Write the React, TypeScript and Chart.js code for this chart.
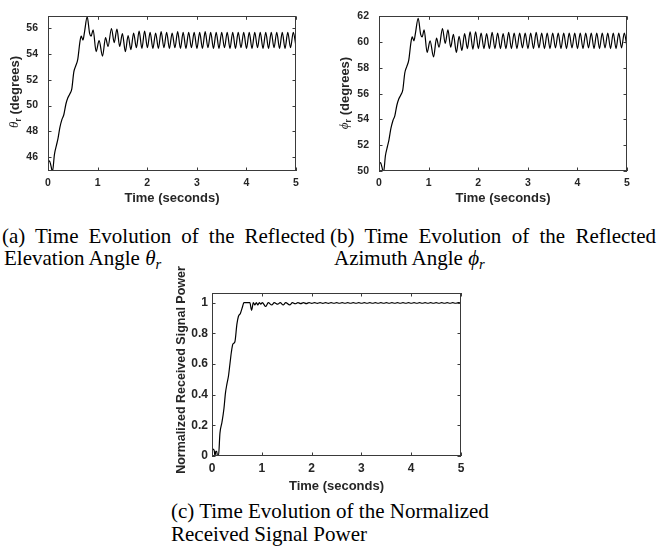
import React, { useEffect, useRef } from "react";
import { Chart, registerables } from "chart.js";
Chart.register(...registerables);

// ---------------- data ----------------
const xTickValues = [0, 1, 2, 3, 4, 5];
const thetaTickValues = [46, 48, 50, 52, 54, 56];
const phiTickValues = [50, 52, 54, 56, 58, 60, 62];
const powerTickValues = [0, 0.2, 0.4, 0.6, 0.8, 1];

// transient part (seconds)
const transientTime = [0, 0.03, 0.06, 0.09, 0.13, 0.17, 0.2, 0.24, 0.28, 0.32, 0.36, 0.4, 0.44, 0.48, 0.52, 0.56, 0.6, 0.645, 0.67, 0.705, 0.735, 0.79, 0.84, 0.87, 0.91, 0.97, 1.03, 1.1, 1.16, 1.21, 1.28, 1.335, 1.39, 1.445, 1.5, 1.56];
const thetaTransient = [45.55, 45.7, 45.3, 44.85, 46.2, 46.9, 47.4, 48.3, 48.9, 49.3, 50.1, 50.6, 50.9, 51.3, 52.6, 53.1, 53.6, 55.0, 55.4, 55.1, 55.7, 56.9, 55.6, 55.4, 55.9, 54.2, 55.05, 53.85, 55.3, 54.6, 56.0, 54.9, 55.95, 54.6, 55.6, 54.2];
const phiTransient = [50.55, 50.65, 50.3, 49.85, 51.2, 51.9, 52.4, 53.3, 53.9, 54.3, 55.1, 55.6, 55.9, 56.3, 57.6, 58.1, 58.6, 60.0, 60.4, 60.1, 60.7, 61.85, 60.6, 60.4, 60.95, 59.2, 60.1, 58.85, 60.3, 59.6, 61.05, 59.9, 60.95, 59.6, 60.6, 59.2];

// steady oscillation extremes (seconds)
const steadyTime = [1.615, 1.671, 1.726, 1.782, 1.837, 1.893, 1.948, 2.004, 2.059, 2.115, 2.17, 2.226, 2.281, 2.337, 2.392, 2.448, 2.503, 2.559, 2.614, 2.67, 2.725, 2.781, 2.836, 2.892, 2.947, 3.003, 3.058, 3.114, 3.169, 3.225, 3.28, 3.336, 3.391, 3.447, 3.502, 3.558, 3.613, 3.669, 3.724, 3.78, 3.835, 3.891, 3.946, 4.002, 4.057, 4.113, 4.168, 4.224, 4.279, 4.335, 4.39, 4.446, 4.501, 4.557, 4.612, 4.668, 4.723, 4.779, 4.834, 4.89, 4.945, 5.0];
const thetaSteady = [
  55.45, 54.35, 55.65, 54.5, 55.8, 54.45, 55.8, 54.5, 55.7, 54.45,
  55.65, 54.45, 55.75, 54.5, 55.7, 54.45, 55.65, 54.5, 55.75, 54.45,
  55.7, 54.45, 55.7, 54.5, 55.7, 54.45, 55.7, 54.45, 55.75, 54.5,
  55.7, 54.45, 55.7, 54.45, 55.7, 54.5, 55.7, 54.45, 55.7, 54.45,
  55.7, 54.5, 55.7, 54.45, 55.7, 54.45, 55.7, 54.5, 55.7, 54.45,
  55.7, 54.45, 55.7, 54.5, 55.7, 54.45, 55.7, 54.45, 55.7, 54.5,
  55.7, 54.6,
];
const phiSteady = [
  60.45, 59.35, 60.65, 59.5, 60.8, 59.45, 60.8, 59.5, 60.7, 59.5,
  60.65, 59.5, 60.75, 59.5, 60.7, 59.5, 60.65, 59.5, 60.75, 59.5,
  60.7, 59.5, 60.7, 59.55, 60.7, 59.5, 60.7, 59.5, 60.75, 59.55,
  60.7, 59.5, 60.7, 59.5, 60.7, 59.55, 60.7, 59.5, 60.7, 59.5,
  60.7, 59.55, 60.7, 59.5, 60.7, 59.5, 60.7, 59.55, 60.7, 59.5,
  60.7, 59.5, 60.7, 59.55, 60.7, 59.5, 60.7, 59.5, 60.7, 59.55,
  60.7, 59.6,
];

const powerTransientTime = [0, 0.02, 0.045, 0.06, 0.075, 0.095, 0.11, 0.13, 0.16, 0.2, 0.24, 0.27, 0.3, 0.33, 0.36, 0.39, 0.42, 0.46, 0.5, 0.53, 0.57, 0.61, 0.64, 0.76, 0.795, 0.83, 0.86, 0.89, 0.92, 0.95, 0.98, 1.01, 1.08, 1.13, 1.2, 1.25, 1.32, 1.37, 1.43, 1.48, 1.56];
const powerTransient = [0.03, 0.045, 0.035, 0.0, 0.03, 0.03, 0.0, 0.0, 0.15, 0.22, 0.31, 0.41, 0.47, 0.52, 0.6, 0.68, 0.73, 0.745, 0.86, 0.91, 0.93, 0.97, 1.0, 1.0, 0.95, 1.0, 0.985, 1.0, 0.985, 1.0, 0.99, 1.0, 0.975, 1.0, 0.985, 1.0, 0.99, 1.0, 0.985, 1.0, 0.985];
const powerSteady = [
  1.0, 0.993, 1.0, 0.994, 1.0, 0.994, 1.0, 0.995, 1.0, 0.995,
  1.0, 0.995, 1.0, 0.995, 1.0, 0.996, 1.0, 0.996, 1.0, 0.996,
  1.0, 0.996, 1.0, 0.996, 1.0, 0.996, 1.0, 0.996, 1.0, 0.996,
  1.0, 0.996, 1.0, 0.996, 1.0, 0.996, 1.0, 0.996, 1.0, 0.996,
  1.0, 0.996, 1.0, 0.996, 1.0, 0.996, 1.0, 0.996, 1.0, 0.996,
  1.0, 0.996, 1.0, 0.996, 1.0, 0.996, 1.0, 0.996, 1.0, 0.996,
  1.0, 0.997,
];

// ---------------- helpers ----------------
const AXIS_COLOR = "#262626";
const SANS = '"Liberation Sans", Arial, sans-serif';

type Part = { text: string; font: string; dy?: number };

function toPoints(ts: number[], vs: number[]) {
  return ts.map((t, i) => ({ x: t, y: vs[i] }));
}

function boxPlugin() {
  return {
    id: "matlabBox",
    afterDatasetsDraw(chart: any) {
      const { ctx, chartArea: a, scales } = chart;
      const x = scales.x;
      const y = scales.y;
      const L = 3.5;
      ctx.save();
      ctx.strokeStyle = "#3a3a3a";
      ctx.lineWidth = 1;
      ctx.beginPath();
      x.ticks.forEach((t: any) => {
        const px = Math.round(x.getPixelForValue(t.value)) + 0.5;
        ctx.moveTo(px, a.bottom);
        ctx.lineTo(px, a.bottom - L);
        ctx.moveTo(px, a.top);
        ctx.lineTo(px, a.top + L);
      });
      y.ticks.forEach((t: any) => {
        const py = Math.round(y.getPixelForValue(t.value)) + 0.5;
        ctx.moveTo(a.left, py);
        ctx.lineTo(a.left + L, py);
        ctx.moveTo(a.right, py);
        ctx.lineTo(a.right - L, py);
      });
      ctx.stroke();
      ctx.strokeRect(Math.round(a.left) + 0.5, Math.round(a.top) + 0.5, Math.round(a.right - a.left) - 1, Math.round(a.bottom - a.top) - 1);
      ctx.restore();
    },
  };
}

function yTitlePlugin(parts: Part[], cx: number, cy: number) {
  return {
    id: "yTitleCustom",
    afterDraw(chart: any) {
      const ctx = chart.ctx;
      ctx.save();
      ctx.translate(cx, cy);
      ctx.rotate(-Math.PI / 2);
      ctx.fillStyle = AXIS_COLOR;
      ctx.textBaseline = "middle";
      ctx.textAlign = "left";
      let total = 0;
      const widths = parts.map((p) => {
        ctx.font = p.font;
        const w = ctx.measureText(p.text).width;
        total += w;
        return w;
      });
      let x = -total / 2;
      parts.forEach((p, i) => {
        ctx.font = p.font;
        ctx.fillText(p.text, x, p.dy || 0);
        x += widths[i];
      });
      ctx.restore();
    },
  };
}

type PlotProps = {
  left: number;
  top: number;
  width: number;
  height: number;
  times: number[][];
  values: number[][];
  yMin: number;
  yMax: number;
  yTicks: number[];
  padTop: number;
  padRight: number;
  yAxisWidth: number;
  xAxisHeight: number;
  yTickPad: number;
  xTickPad: number;
  xTitlePadBottom: number;
  tickSize: number;
  yTitle: Part[];
  yTitleX: number;
  yTitleY: number;
  yFormat?: (v: number) => string;
};

function Plot(p: PlotProps) {
  const ref = useRef<HTMLCanvasElement>(null);
  useEffect(() => {
    const pts: { x: number; y: number }[] = [];
    p.times.forEach((ts, k) => pts.push(...toPoints(ts, p.values[k])));
    const tickFont = { family: SANS, size: p.tickSize, weight: "bold" as const };
    const chart = new Chart(ref.current!, {
      type: "line",
      data: {
        datasets: [
          {
            data: pts,
            borderColor: "#000",
            borderWidth: 1.2,
            pointRadius: 0,
            fill: false,
            cubicInterpolationMode: "monotone",
          },
        ],
      },
      options: {
        animation: false,
        responsive: false,
        maintainAspectRatio: false,
        devicePixelRatio: 1,
        layout: { padding: { top: p.padTop, right: p.padRight, left: 0, bottom: 0 } },
        plugins: { legend: { display: false }, tooltip: { enabled: false } },
        scales: {
          x: {
            type: "linear",
            min: 0,
            max: 5,
            afterBuildTicks: (s: any) => {
              s.ticks = xTickValues.map((v) => ({ value: v }));
            },
            afterFit: (s: any) => {
              s.height = p.xAxisHeight;
            },
            ticks: { color: AXIS_COLOR, font: tickFont, padding: p.xTickPad, maxRotation: 0, autoSkip: false },
            grid: { display: false, drawTicks: false },
            border: { display: false },
            title: {
              display: true,
              text: "Time (seconds)",
              color: AXIS_COLOR,
              font: { family: SANS, size: 13, weight: "bold" },
              padding: { top: 0, bottom: p.xTitlePadBottom },
            },
          },
          y: {
            type: "linear",
            min: p.yMin,
            max: p.yMax,
            afterBuildTicks: (s: any) => {
              s.ticks = p.yTicks.map((v) => ({ value: v }));
            },
            afterFit: (s: any) => {
              s.width = p.yAxisWidth;
            },
            ticks: {
              color: AXIS_COLOR,
              font: tickFont,
              padding: p.yTickPad,
              autoSkip: false,
              callback: (v: any) => (p.yFormat ? p.yFormat(Number(v)) : String(v)),
            },
            grid: { display: false, drawTicks: false },
            border: { display: false },
          },
        },
      },
      plugins: [boxPlugin(), yTitlePlugin(p.yTitle, p.yTitleX, p.yTitleY)],
    } as any);
    return () => chart.destroy();
  }, []);
  return (
    <canvas
      ref={ref}
      width={p.width}
      height={p.height}
      style={{ position: "absolute", left: p.left, top: p.top, width: p.width, height: p.height }}
    />
  );
}

const capStyle: React.CSSProperties = {
  position: "absolute",
  fontFamily: '"Liberation Serif", "Times New Roman", serif',
  fontSize: 21,
  color: "#000",
  textAlign: "justify",
  lineHeight: "22px",
};

const subStyle: React.CSSProperties = { fontSize: "0.7em", verticalAlign: "-0.25em", fontStyle: "italic", lineHeight: 0 };

export default function App() {
  const titleFont = `bold 13px ${SANS}`;
  return (
    <div style={{ position: "absolute", left: 0, top: 0, width: 659, height: 550, background: "#fff", overflow: "hidden" }}>
      <div style={{ ...capStyle, left: 4, top: 225, width: 321, textIndent: -2 }}>
        (a) Time Evolution of the Reflected Elevation Angle <i>θ</i>
        <span style={subStyle}>r</span>
      </div>
      <div style={{ ...capStyle, left: 334, top: 225, width: 322, textIndent: -4 }}>
        (b) Time Evolution of the Reflected Azimuth Angle <i>ϕ</i>
        <span style={subStyle}>r</span>
      </div>
      <div style={{ ...capStyle, left: 171, top: 500, width: 360, textAlign: "left", lineHeight: "23px" }}>
        (c) Time Evolution of the Normalized
        <br />
        Received Signal Power
      </div>
      <Plot
        left={0}
        top={0}
        width={330}
        height={215}
        times={[transientTime, steadyTime]}
        values={[thetaTransient, thetaSteady]}
        yMin={44.9}
        yMax={56.95}
        yTicks={thetaTickValues}
        padTop={6}
        padRight={34}
        yAxisWidth={48}
        xAxisHeight={44}
        yTickPad={10}
        xTickPad={6}
        xTitlePadBottom={9}
        tickSize={10.5}
        yTitle={[
          { text: "θ", font: `italic 13px "Liberation Serif"` },
          { text: "r", font: `bold 9px ${SANS}`, dy: 4 },
          { text: " (degrees)", font: titleFont },
        ]}
        yTitleX={15}
        yTitleY={92}
      />
      <Plot
        left={330}
        top={0}
        width={329}
        height={215}
        times={[transientTime, steadyTime]}
        values={[phiTransient, phiSteady]}
        yMin={50}
        yMax={62}
        yTicks={phiTickValues}
        padTop={7}
        padRight={32}
        yAxisWidth={49}
        xAxisHeight={44}
        yTickPad={10}
        xTickPad={6}
        xTitlePadBottom={9}
        tickSize={10.5}
        yTitle={[
          { text: "ϕ", font: `italic 13px "Liberation Serif"` },
          { text: "r", font: `bold 9px ${SANS}`, dy: 4 },
          { text: " (degrees)", font: titleFont },
        ]}
        yTitleX={15}
        yTitleY={93}
      />
      <Plot
        left={140}
        top={240}
        width={360}
        height={260}
        times={[powerTransientTime, steadyTime]}
        values={[powerTransient, powerSteady]}
        yMin={0}
        yMax={1.063}
        yTicks={powerTickValues}
        padTop={53}
        padRight={39}
        yAxisWidth={72}
        xAxisHeight={44}
        yTickPad={4}
        xTickPad={5}
        xTitlePadBottom={6}
        tickSize={12}
        yTitle={[{ text: "Normalized Received Signal Power", font: `bold 12.5px ${SANS}` }]}
        yTitleX={42}
        yTitleY={130}
        yFormat={(v) => String(Math.round(v * 10) / 10)}
      />
    </div>
  );
}
